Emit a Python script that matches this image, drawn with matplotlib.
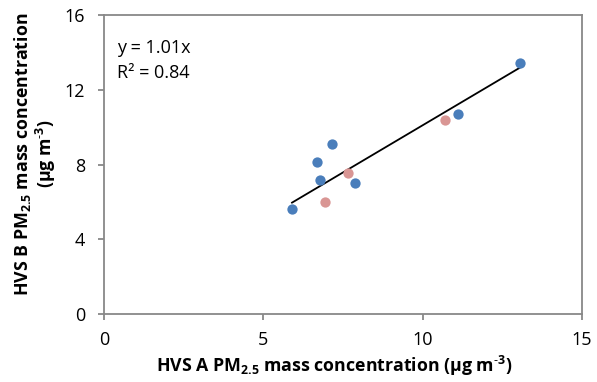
import matplotlib
matplotlib.use("Agg")
import matplotlib.pyplot as plt
import numpy as np

plt.rcParams['font.family'] = ['Open Sans', 'DejaVu Sans']
plt.rcParams['mathtext.fontset'] = 'custom'
plt.rcParams['mathtext.rm'] = 'Open Sans'
plt.rcParams['mathtext.bf'] = 'Open Sans:bold'

# Data
blue_x = [5.90, 6.68, 6.78, 7.15, 7.89, 11.10, 13.04]
blue_y = [5.63, 8.12, 7.15, 9.08, 7.01, 10.68, 13.41]
pink_x = [6.95, 7.67, 10.69]
pink_y = [5.98, 7.56, 10.36]
slope = 1.01
r2 = 0.84
x_ticks = [0, 5, 10, 15]
y_ticks = [0, 4, 8, 12, 16]

fig = plt.figure(figsize=(5.97, 3.82), dpi=100)
ax = fig.add_axes([104/597, 1-314/382, 478/597, 299/382])

ax.scatter(blue_x, blue_y, s=55, color='#4A7EBB', zorder=3, linewidths=0)
ax.scatter(pink_x, pink_y, s=55, color='#D99694', zorder=3, linewidths=0)

xl = np.array([min(blue_x + pink_x), max(blue_x + pink_x)])
ax.plot(xl, slope * xl, color='black', lw=1.3, zorder=2)

ax.set_xlim(0, 15)
ax.set_ylim(0, 16)
ax.set_xticks(x_ticks)
ax.set_yticks(y_ticks)
for s in ax.spines.values():
    s.set_color('#888888')
    s.set_linewidth(1.3)
ax.tick_params(colors='#888888', labelcolor='black', labelsize=13, length=4.5, width=1.3, direction='out')
ax.tick_params(axis='x', pad=8)
ax.tick_params(axis='y', pad=9)

ax.text(0.027, 0.873, "y = 1.01x", transform=ax.transAxes, fontsize=13, va='baseline', ha='left')
ax.text(0.027, 0.789, "R² = 0.84", transform=ax.transAxes, fontsize=13, va='baseline', ha='left')

fig.text(334/597, 1-372/382, r"HVS A PM$_{\mathbf{2.5}}$ mass concentration (µg m$^{\mathbf{\text{-}3}}$)",
         fontsize=12.8, fontweight='bold', ha='center', va='baseline')
fig.text(35/597, 1-154/382, "HVS B PM$_{\\mathbf{2.5}}$ mass concentration\n(µg m$^{\\mathbf{\\text{-}3}}$)",
         fontsize=12.8, fontweight='bold', ha='center', va='center', rotation=90,
         multialignment='center', linespacing=1.05)

fig.savefig("out.png", dpi=100)
